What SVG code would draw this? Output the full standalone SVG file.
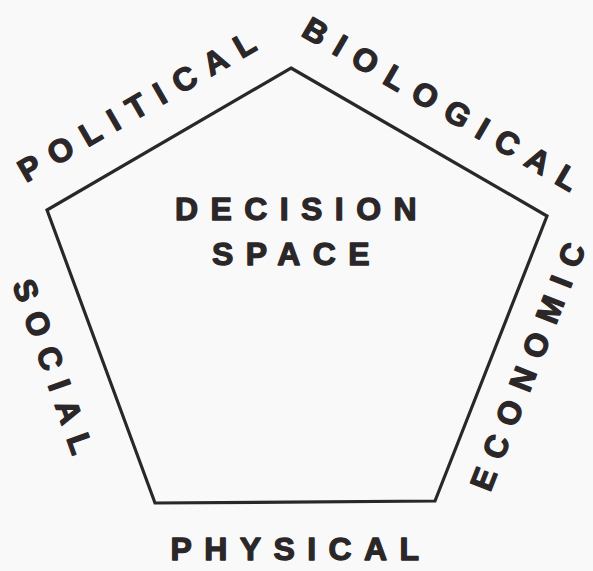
<svg xmlns="http://www.w3.org/2000/svg" xmlns:xlink="http://www.w3.org/1999/xlink" width="593" height="571" viewBox="0 0 593 571">
<style>
.lbl{font-family:"Liberation Sans",Arial,sans-serif;font-weight:bold;font-size:32px;letter-spacing:12.4px;fill:#2b2728;stroke:#2b2728;stroke-width:1.3px;stroke-linejoin:round}
.edge{fill:none;stroke:#2b2728;stroke-width:3.2;stroke-linejoin:miter}
</style>
<defs>
<path id="pPol" d="M26,183 L280,37"/>
<path id="pBio" d="M300,35 L590,204"/>
<path id="pEco" d="M490,493 L600,213"/>
<path id="pSoc" d="M12,284 L85,491"/>
</defs>
<rect width="593" height="571" fill="#f9f9f9"/>
<g id="connectors">
<polygon class="edge" points="291,68 547,216 435,501 155,503 47,210"/>
</g>
<g id="decision-space">
<text class="lbl" x="302" y="220" text-anchor="middle">DECISION</text>
<text class="lbl" x="297" y="265" text-anchor="middle">SPACE</text>
</g>
<g id="political"><text class="lbl"><textPath xlink:href="#pPol" href="#pPol">POLITICAL</textPath></text></g>
<g id="biological"><text class="lbl"><textPath xlink:href="#pBio" href="#pBio">BIOLOGICAL</textPath></text></g>
<g id="economic"><text class="lbl"><textPath xlink:href="#pEco" href="#pEco">ECONOMIC</textPath></text></g>
<g id="social"><text class="lbl"><textPath xlink:href="#pSoc" href="#pSoc">SOCIAL</textPath></text></g>
<g id="physical"><text class="lbl" x="301" y="560" text-anchor="middle">PHYSICAL</text></g>
</svg>
